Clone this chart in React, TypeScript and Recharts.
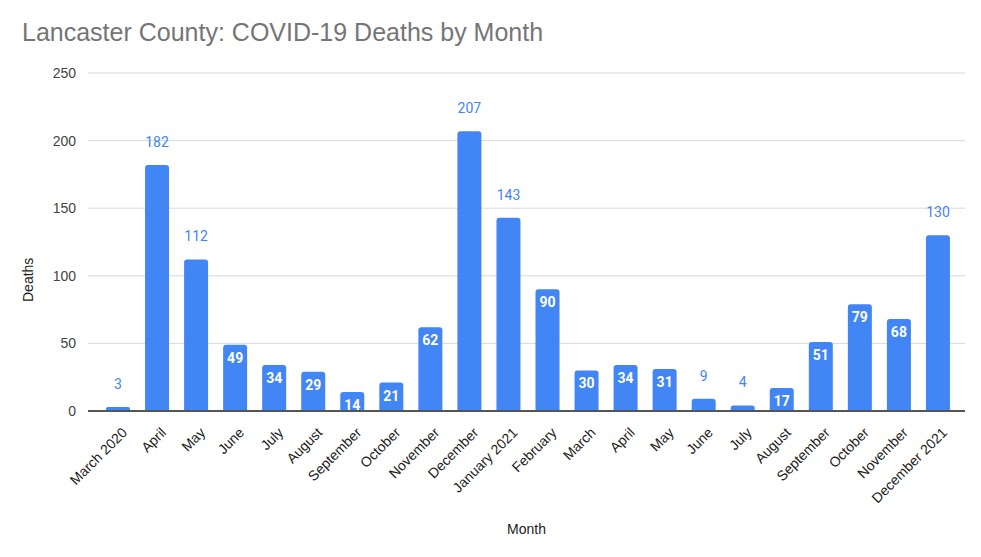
import React from 'react'
import { BarChart, Bar, XAxis, YAxis, CartesianGrid, LabelList, Label } from 'recharts'

const months = [
  'March 2020', 'April', 'May', 'June', 'July', 'August', 'September', 'October', 'November',
  'December', 'January 2021', 'February', 'March', 'April', 'May', 'June', 'July', 'August',
  'September', 'October', 'November', 'December 2021',
]
const deaths = [3, 182, 112, 49, 34, 29, 14, 21, 62, 207, 143, 90, 30, 34, 31, 9, 4, 17, 51, 79, 68, 130]
const yTicks = [0, 50, 100, 150, 200, 250]

const data = months.map((m, i) => ({ name: m, deaths: deaths[i] }))

const BLUE = '#4285F4'
const FONT = '"Liberation Sans", Arial, sans-serif'
const NUM_FONT = 'Roboto, Arial, sans-serif'

// tall bars and tiny bars get their label above, the rest inside
const BarValue = (props: any) => {
  const { x, y, width, value } = props
  const cx = x + width / 2
  const outside = value < 10 || value > 100
  if (outside) {
    return (
      <text x={cx} y={y - 23} dy="0.35em" textAnchor="middle" fill={BLUE} fontSize={14} fontFamily={NUM_FONT}>
        {value}
      </text>
    )
  }
  return (
    <text x={cx} y={y + 13} dy="0.35em" textAnchor="middle" fill="#fff" fontSize={14} fontWeight="bold" fontFamily={NUM_FONT}>
      {value}
    </text>
  )
}

const MonthTick = (props: any) => {
  const { x, y, payload } = props
  return (
    <g transform={`translate(${x + 7},${y + 11})`}>
      <text x={0} y={0} dy="0.35em" textAnchor="end" transform="rotate(-45)" fill="#222" fontSize={14} fontFamily={FONT}>
        {payload.value}
      </text>
    </g>
  )
}

export default function App() {
  return (
    <div style={{ position: 'absolute', left: 0, top: 0, width: 981, height: 557, background: '#fff' }}>
      <div style={{ position: 'absolute', left: 22, top: 18, fontFamily: FONT, fontSize: 25, color: '#757575' }}>
        Lancaster County: COVID-19 Deaths by Month
      </div>
      <BarChart width={981} height={557} data={data} margin={{ top: 73, right: 16, bottom: 0, left: 0 }}>
        <CartesianGrid vertical={false} stroke="#d9d9d9" />
        <XAxis
          dataKey="name"
          interval={0}
          height={146}
          tick={<MonthTick />}
          tickLine={false}
          axisLine={{ stroke: '#555', strokeWidth: 2 }}
          padding={{ left: 10, right: 8 }}
        >
          <Label value="Month" position="insideBottom" offset={23} fill="#222" fontSize={14} fontFamily={FONT} />
        </XAxis>
        <YAxis
          width={88}
          domain={[0, 250]}
          ticks={yTicks}
          tickLine={false}
          axisLine={false}
          tick={{ fill: '#444', fontSize: 14, fontFamily: FONT }}
          tickMargin={6}
        >
          <Label value="Deaths" angle={-90} position="insideLeft" offset={28} dy={60} fill="#222" fontSize={14} fontFamily={FONT} />
        </YAxis>
        <Bar dataKey="deaths" fill={BLUE} barSize={24} radius={[3, 3, 0, 0]} isAnimationActive={false}>
          <LabelList dataKey="deaths" content={<BarValue />} />
        </Bar>
      </BarChart>
    </div>
  )
}
